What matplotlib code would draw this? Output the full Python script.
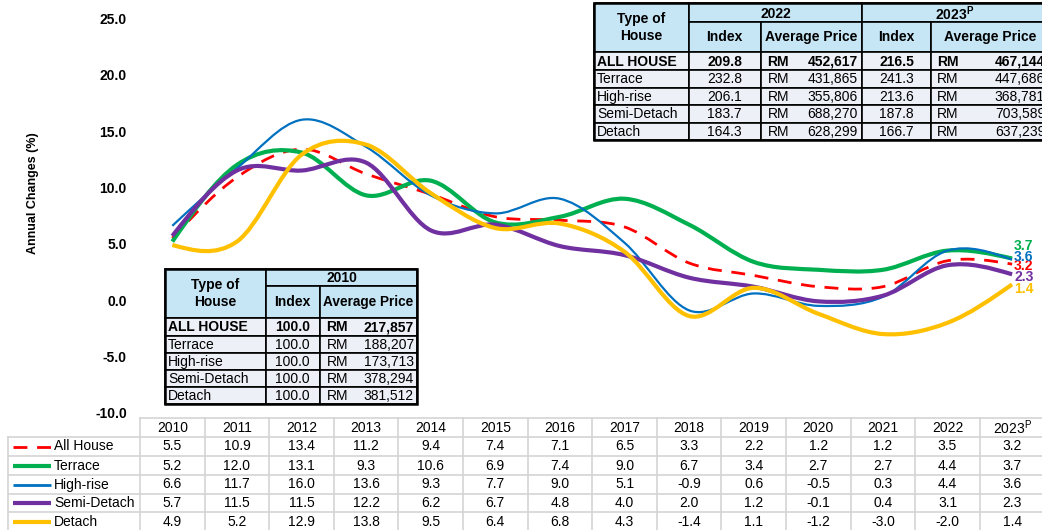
import numpy as np
import matplotlib
matplotlib.use("Agg")
import matplotlib.pyplot as plt
from matplotlib.path import Path
from matplotlib.patches import PathPatch, Rectangle
from matplotlib.transforms import blended_transform_factory

plt.rcParams['font.family'] = ['Liberation Sans', 'DejaVu Sans']
plt.rcParams['mathtext.fontset'] = 'custom'
plt.rcParams['mathtext.rm'] = 'Liberation Sans'
plt.rcParams['mathtext.bf'] = 'Liberation Sans:bold'

# ---------------- data ----------------
years = ["2010", "2011", "2012", "2013", "2014", "2015", "2016", "2017",
         "2018", "2019", "2020", "2021", "2022", "2023$^{\\mathrm{P}}$"]
series_names = ["All House", "Terrace", "High-rise", "Semi-Detach", "Detach"]
all_house = [5.5, 10.9, 13.4, 11.2, 9.4, 7.4, 7.1, 6.5, 3.3, 2.2, 1.2, 1.2, 3.5, 3.2]
terrace = [5.2, 12.0, 13.1, 9.3, 10.6, 6.9, 7.4, 9.0, 6.7, 3.4, 2.7, 2.7, 4.4, 3.7]
high_rise = [6.6, 11.7, 16.0, 13.6, 9.3, 7.7, 9.0, 5.1, -0.9, 0.6, -0.5, 0.3, 4.4, 3.6]
semi_detach = [5.7, 11.5, 11.5, 12.2, 6.2, 6.7, 4.8, 4.0, 2.0, 1.2, -0.1, 0.4, 3.1, 2.3]
detach = [4.9, 5.2, 12.9, 13.8, 9.5, 6.4, 6.8, 4.3, -1.4, 1.1, -1.2, -3.0, -2.0, 1.4]
series_values = [all_house, terrace, high_rise, semi_detach, detach]

yticks = [-10, -5, 0, 5, 10, 15, 20, 25]

# inset table (2022 / 2023P)
house_types = ["ALL HOUSE", "Terrace", "High-rise", "Semi-Detach", "Detach"]
index_2022 = ["209.8", "232.8", "206.1", "183.7", "164.3"]
price_2022 = ["452,617", "431,865", "355,806", "688,270", "628,299"]
index_2023 = ["216.5", "241.3", "213.6", "187.8", "166.7"]
price_2023 = ["467,144", "447,686", "368,781", "703,589", "637,239"]
# inset table (2010)
index_2010 = ["100.0", "100.0", "100.0", "100.0", "100.0"]
price_2010 = ["217,857", "188,207", "173,713", "378,294", "381,512"]

# ---------------- styles ----------------
colors = ["#FF0000", "#00B050", "#0070C0", "#7030A0", "#FFC000"]
widths = [2.0, 3.0, 1.6, 3.0, 3.0]
styles = [(0, (5, 3.5)), "solid", "solid", "solid", "solid"]
label_offsets = [2, -13, -3, 2.5, 5]  # pixel offsets (down positive) for end labels
FS = 10

W, H = 1042, 530
fig = plt.figure(figsize=(W / 100, H / 100), dpi=100)

# pixel geometry
spacing = 64.6
x_left = 140.0
y_top, y_bot = 18.3, 413.0
ax = fig.add_axes([x_left / W, (H - y_bot) / H, (W - x_left) / W, (y_bot - y_top) / H])
ax.set_xlim(-0.5, -0.5 + (W - x_left) / spacing)
ax.set_ylim(-10, 25)
for s in ax.spines.values():
    s.set_visible(False)
ax.set_xticks([])
ax.set_yticks(yticks)
ax.set_yticklabels([f"{v:.1f}" for v in yticks], fontsize=FS, fontweight="bold")
ax.tick_params(axis="y", length=0, pad=9.5)
ax.patch.set_alpha(0)


def smooth_path(xs, ys):
    p = np.column_stack([xs, ys]).astype(float)
    n = len(p)
    T = np.zeros_like(p)
    for i in range(1, n - 1):
        T[i] = (p[i + 1] - p[i - 1]) / 2
    T[0] = (3 * (p[1] - p[0]) - T[1]) / 2
    T[-1] = (3 * (p[-1] - p[-2]) - T[-2]) / 2
    verts = [p[0]]
    codes = [Path.MOVETO]
    for i in range(n - 1):
        verts += [p[i] + T[i] / 3, p[i + 1] - T[i + 1] / 3, p[i + 1]]
        codes += [Path.CURVE4] * 3
    return Path(verts, codes)


xs = np.arange(len(years))
for vals, c, lw, ls in zip(series_values, colors, widths, styles):
    pp = PathPatch(smooth_path(xs, vals), fill=False, edgecolor=c, lw=lw,
                   linestyle=ls, capstyle="butt", joinstyle="round", zorder=3)
    ax.add_patch(pp)

for vals, c, off in zip(series_values, colors, label_offsets):
    ax.annotate(f"{vals[-1]:.1f}", xy=(xs[-1], vals[-1]), xytext=(2, -off),
                textcoords="offset pixels", ha="left", va="center",
                color=c, fontsize=FS, fontweight="bold", zorder=5)

# overlay axes in pixel coordinates
ov = fig.add_axes([0, 0, 1, 1])
ov.set_xlim(0, W)
ov.set_ylim(H, 0)
ov.axis("off")
ov.patch.set_alpha(0)

ov.text(33, 193, "Annual Changes (%)", rotation=90, ha="center", va="center",
        fontsize=9, fontweight="bold")

hdr_fill = "#C6E6F6"
body_fill = "#EEF0F8"


def cell(x0, x1, y0, y1, fill, lw=1.2):
    ov.add_patch(Rectangle((x0, y0), x1 - x0, y1 - y0, facecolor=fill,
                           edgecolor="black", lw=lw, zorder=6))


def tx(x, y, s, ha="center", bold=False, size=FS):
    ov.text(x, y, s, ha=ha, va="center", fontsize=size,
            fontweight="bold" if bold else "normal", zorder=7)


# ---- top-right table ----
cx = [594, 689, 760.5, 862, 931, 1060]
ry = [3, 22, 52, 70, 87.5, 105, 122.5, 140]
cell(cx[0], cx[1], ry[0], ry[2], hdr_fill)
tx((cx[0] + cx[1]) / 2, (ry[0] + ry[2]) / 2, "Type of\nHouse", bold=True)
cell(cx[1], cx[3], ry[0], ry[1], hdr_fill)
tx((cx[1] + cx[3]) / 2, (ry[0] + ry[1]) / 2 + 1, "2022", bold=True)
cell(cx[3], cx[5], ry[0], ry[1], hdr_fill)
tx(955, (ry[0] + ry[1]) / 2 + 1, "2023$^{\\mathbf{P}}$", bold=True)
for j, lab in enumerate(["Index", "Average Price", "Index", "Average Price"]):
    cell(cx[j + 1], cx[j + 2], ry[1], ry[2], hdr_fill)
    xc = (cx[j + 1] + cx[j + 2]) / 2 if j < 3 else 990
    tx(xc, (ry[1] + ry[2]) / 2, lab, bold=True)
for i, name in enumerate(house_types):
    y0, y1 = ry[i + 2], ry[i + 3]
    yc = (y0 + y1) / 2 + 0.5
    b = (i == 0)
    for j in range(5):
        cell(cx[j], cx[j + 1], y0, y1, body_fill)
    tx(cx[0] + 3, yc, name, ha="left", bold=b)
    tx((cx[1] + cx[2]) / 2, yc, index_2022[i], bold=b)
    tx(cx[2] + 7, yc, "RM", ha="left", bold=b)
    tx(cx[3] - 4, yc, price_2022[i], ha="right", bold=b)
    tx((cx[3] + cx[4]) / 2, yc, index_2023[i], bold=b)
    tx(cx[4] + 6, yc, "RM", ha="left", bold=b)
    tx(1045, yc, price_2023[i], ha="right", bold=b)
ov.add_patch(Rectangle((cx[0], ry[0]), cx[5] - cx[0], ry[-1] - ry[0], fill=False,
                       edgecolor="black", lw=1.8, zorder=8))

# ---- bottom-left table ----
bx = [165, 266, 319.5, 417]
by = [269, 286, 318, 335.5, 353, 370, 387, 404]
cell(bx[0], bx[1], by[0], by[2], hdr_fill)
tx((bx[0] + bx[1]) / 2, (by[0] + by[2]) / 2, "Type of\nHouse", bold=True)
cell(bx[1], bx[3], by[0], by[1], hdr_fill)
tx((bx[1] + bx[3]) / 2, (by[0] + by[1]) / 2 + 1, "2010", bold=True)
cell(bx[1], bx[2], by[1], by[2], hdr_fill)
tx((bx[1] + bx[2]) / 2, (by[1] + by[2]) / 2, "Index", bold=True)
cell(bx[2], bx[3], by[1], by[2], hdr_fill)
tx((bx[2] + bx[3]) / 2, (by[1] + by[2]) / 2, "Average Price", bold=True, size=9.8)
for i, name in enumerate(house_types):
    y0, y1 = by[i + 2], by[i + 3]
    yc = (y0 + y1) / 2 + 0.5
    b = (i == 0)
    for j in range(3):
        cell(bx[j], bx[j + 1], y0, y1, body_fill)
    tx(bx[0] + 3, yc, name, ha="left", bold=b)
    tx((bx[1] + bx[2]) / 2, yc, index_2010[i], bold=b)
    tx(bx[2] + 7, yc, "RM", ha="left", bold=b)
    tx(bx[3] - 3, yc, price_2010[i], ha="right", bold=b)
ov.add_patch(Rectangle((bx[0], by[0]), bx[3] - bx[0], by[-1] - by[0], fill=False,
                       edgecolor="black", lw=1.8, zorder=8))

# ---- bottom data table ----
grid_c = "#D4D4D4"
tr = blended_transform_factory(ax.transData, ov.transData)
ty = [418, 436.5, 455.5, 474.5, 493.5, 512, 531]
n = len(years)
ov.plot([x_left, W], [ty[0], ty[0]], color=grid_c, lw=1.2, zorder=2)
for yy in ty[1:]:
    ov.plot([8, W], [yy, yy], color=grid_c, lw=1.2, zorder=2)
for k in range(n + 1):
    ax.plot([k - 0.5, k - 0.5], [ty[0], ty[-1]], transform=tr, color=grid_c,
            lw=1.2, clip_on=False, zorder=2)
ov.plot([8, 8], [ty[1], ty[-1]], color=grid_c, lw=1.2, zorder=2)

for k, yr in enumerate(years):
    ax.text(k, (ty[0] + ty[1]) / 2 + 0.5, yr, transform=tr, ha="center",
            va="center", fontsize=FS, clip_on=False)
for r, (name, vals, c, lw, ls) in enumerate(zip(series_names, series_values,
                                                colors, widths, styles)):
    yc = (ty[r + 1] + ty[r + 2]) / 2 + 0.5
    ov.plot([13, 51], [yc, yc], color=c, lw=lw if r != 2 else 2.0,
            linestyle=(0, (5, 3.5)) if r == 0 else "solid", solid_capstyle="butt",
            dash_capstyle="butt", zorder=4)
    ov.text(54, yc, name, ha="left", va="center", fontsize=FS)
    for k, v in enumerate(vals):
        ax.text(k, yc, f"{v:.1f}", transform=tr, ha="center", va="center",
                fontsize=FS, clip_on=False)

fig.savefig("out.png", dpi=100)
